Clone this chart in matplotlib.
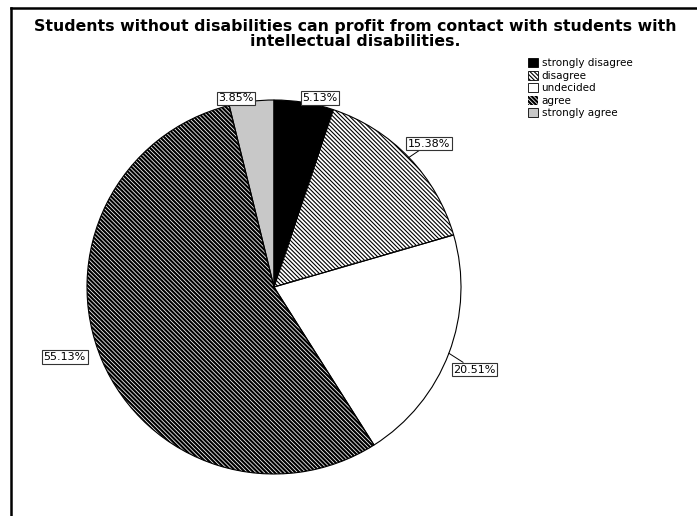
import numpy as np
import matplotlib
matplotlib.use("Agg")
import matplotlib.pyplot as plt
from matplotlib.patches import Patch
from matplotlib.lines import Line2D

# survey answers, clockwise from 12 o'clock
answers = ["strongly disagree", "disagree", "undecided", "agree", "strongly agree"]
shares = [5.13, 15.38, 20.51, 55.13, 3.85]

faces = ["black", "white", "white", "black", "#c8c8c8"]
hatch_col = ["black", "black", "black", "white", "black"]
hatches = [None, "\\" * 8, None, "\\" * 8, None]
hatch_lw = [1.0, 0.8, 1.0, 0.55, 1.0]

# where each percent box sits: (angle from top in degrees, radius)
label_pos = [(13.7, 1.04), (47.3, 1.13), (112.4, 1.16), (251.5, 1.18), (-11.4, 1.03)]
leader = [False, True, True, False, False]

W, H = 697, 516
cx, cy, R = 274, 287, 187  # pie centre and radius in pixels


def style_patch(p, hc, h, lw):
    p.set_edgecolor(hc)
    p.set_linewidth(0)
    if h:
        p.set_hatch(h)
    if hasattr(p, "set_hatch_linewidth"):
        p.set_hatch_linewidth(lw)
    else:
        p._hatch_linewidth = lw


fig = plt.figure(figsize=(W / 100, H / 100), dpi=100)
ax = fig.add_axes([0, 0, 1, 1])

wedges, _ = ax.pie(shares, startangle=90, counterclock=False, radius=1,
                   colors=faces, wedgeprops=dict(linewidth=0))
for w, hc, h, lw in zip(wedges, hatch_col, hatches, hatch_lw):
    style_patch(w, hc, h, lw)

# outlines on top
ax.pie(shares, startangle=90, counterclock=False, radius=1,
       wedgeprops=dict(fill=False, edgecolor="black", linewidth=0.8))

ax.set_xlim(-cx / R, (W - cx) / R)
ax.set_ylim((cy - H) / R, cy / R)
ax.set_aspect("equal")
ax.axis("off")

# percent boxes
cum = np.cumsum([0] + shares[:-1])
for i, v in enumerate(shares):
    ang, rr = label_pos[i]
    a = np.deg2rad(ang)
    x, y = rr * np.sin(a), rr * np.cos(a)
    if leader[i]:
        mid = np.deg2rad((cum[i] + v / 2) * 3.6)
        ex, ey = np.sin(mid), np.cos(mid)
        ax.plot([ex, ex + (x - ex) * 0.55], [ey, ey + (y - ey) * 0.55],
                color="black", lw=0.7, zorder=3)
    ax.text(x, y, f"{v:.2f}%", ha="center", va="center", fontsize=8,
            bbox=dict(boxstyle="square,pad=0.15", fc="white", ec="#333333", lw=0.8),
            zorder=4)

# legend
handles = [Patch(facecolor=f) for f in faces]
for p, hc, h, lw in zip(handles, hatch_col, hatches, hatch_lw):
    style_patch(p, hc, h, lw)
leg = fig.legend(handles, answers, loc="upper left",
                 bbox_to_anchor=(528 / W, 1 - 58 / H), frameon=False,
                 fontsize=7.5, handlelength=1.0, handleheight=1.0,
                 handletextpad=0.3, labelspacing=0.22, borderpad=0,
                 borderaxespad=0)
for p, hc, h, lw in zip(leg.get_patches(), hatch_col, hatches, hatch_lw):
    style_patch(p, hc, h, lw)
    if hc == "black":
        p.set_linewidth(0.6)

fig.text(355 / W, 1 - 27 / H,
         "Students without disabilities can profit from contact with students with",
         ha="center", va="center", fontsize=11.3, fontweight="bold")
fig.text(355 / W, 1 - 42 / H, "intellectual disabilities.",
         ha="center", va="center", fontsize=11.3, fontweight="bold")

# frame edges
fig.add_artist(Line2D([11 / W, 11 / W], [0, 1 - 8 / H], transform=fig.transFigure,
                      color="black", lw=1.8))
fig.add_artist(Line2D([11 / W, 1], [1 - 8 / H, 1 - 8 / H], transform=fig.transFigure,
                      color="black", lw=1.8))

fig.savefig("out.png", dpi=100)
